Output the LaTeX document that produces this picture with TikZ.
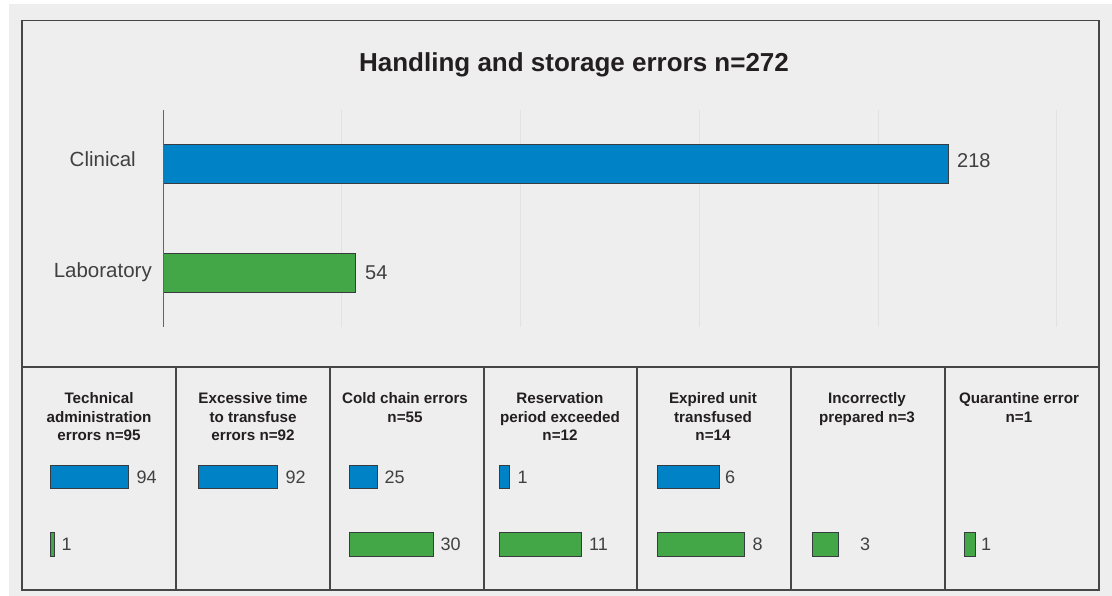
\documentclass[tikz,border=0pt]{standalone}
\usepackage{fontspec}
\setmainfont{Liberation Sans}
\definecolor{bg}{RGB}{238,238,238}
\definecolor{cblue}{RGB}{0,131,198}
\definecolor{cgreen}{RGB}{67,167,72}
\definecolor{barline}{RGB}{55,60,65}
\definecolor{frame}{RGB}{70,70,70}
\definecolor{gridc}{RGB}{226,226,226}
\definecolor{axisc}{RGB}{100,100,100}
\definecolor{hdrc}{RGB}{35,31,32}
\definecolor{valc}{RGB}{64,64,64}
\tikzset{
  bluebar/.style={fill=cblue,draw=barline,line width=0.8pt},
  greenbar/.style={fill=cgreen,draw=barline,line width=0.8pt},
  framebox/.style={draw=frame,line width=1.4pt},
  gridline/.style={draw=gridc,line width=0.8pt},
  valtext/.style={anchor=base west,inner sep=0pt,text=valc,font=\fontsize{18}{18}\selectfont},
  bigval/.style={anchor=base west,inner sep=0pt,text=valc,font=\fontsize{20}{20}\selectfont},
  catlabel/.style={anchor=base east,inner sep=0pt,text=valc,font=\fontsize{20.5}{20.5}\selectfont},
  hdr/.style={anchor=north,align=center,inner sep=0pt,text=hdrc,font=\bfseries\fontsize{15.2}{18.3}\selectfont},
  titletext/.style={anchor=base,inner sep=0pt,text=hdrc,font=\bfseries\fontsize{26}{26}\selectfont}
}
\begin{document}
\begin{tikzpicture}[x=1pt,y=-1pt]
\useasboundingbox (0,0) rectangle (1112,596);
\fill[white] (0,0) rectangle (1112,596);
\fill[bg] (9,4) rectangle (1112,596);

% title
\node[titletext] (title) at (574,72) {Handling and storage errors n=272};

% grid lines
\foreach \gx in {341.5,520,699,878,1056}
  \draw[gridline] (\gx,110) -- (\gx,327);

% top bars
\draw[bluebar] (163,144) rectangle (948,183.5);
\draw[greenbar] (163,253) rectangle (355,292);
% axis
\draw[draw=axisc,line width=1pt] (163,110) -- (163,327);

\node[catlabel] (clin) at (136,167) {Clinical};
\node[catlabel] (lab) at (152,277.5) {Laboratory};
\node[bigval] (v218) at (957,167.5) {218};
\node[bigval] (v54) at (365,279.5) {54};

% frame
\draw[framebox] (22,20.5) rectangle (1099,590);
\draw[framebox] (22,367) -- (1099,367);
\foreach \cx in {176,330,484,637,791,945}
  \draw[framebox] (\cx,367) -- (\cx,590);

% headers
\node[hdr] (h1) at (99,392.5) {Technical\\administration\\errors n=95};
\node[hdr] (h2) at (253,392.5) {Excessive time\\to transfuse\\errors n=92};
\node[hdr] (h3) at (405,392.5) {Cold chain errors\\n=55};
\node[hdr] (h4) at (560,392.5) {Reservation\\period exceeded\\n=12};
\node[hdr] (h5) at (713,392.5) {Expired unit\\transfused\\n=14};
\node[hdr] (h6) at (867,392.5) {Incorrectly\\prepared n=3};
\node[hdr] (h7) at (1019,392.5) {Quarantine error\\n=1};

% bottom bars: blue row 465-488.5, green row 532-556
\draw[bluebar] (50.4,465) rectangle (128.6,488.5);
\draw[greenbar] (50,532) rectangle (54.5,556);
\node[valtext] (c1a) at (136.5,483) {94};
\node[valtext] (c1b) at (61.5,550.5) {1};

\draw[bluebar] (198.5,465) rectangle (277,488.5);
\node[valtext] (c2a) at (285.5,483) {92};

\draw[bluebar] (349,465) rectangle (377.5,488.5);
\draw[greenbar] (349,532) rectangle (433.5,556);
\node[valtext] (c3a) at (384.5,483) {25};
\node[valtext] (c3b) at (440.5,550.5) {30};

\draw[bluebar] (499,465) rectangle (509.6,488.5);
\draw[greenbar] (499,532) rectangle (581.4,556);
\node[valtext] (c4a) at (517.5,483) {1};
\node[valtext] (c4b) at (589,550.5) {11};

\draw[bluebar] (657.5,465) rectangle (719,488.5);
\draw[greenbar] (657.5,532) rectangle (744,556);
\node[valtext] (c5a) at (725,483) {6};
\node[valtext] (c5b) at (752.5,550.5) {8};

\draw[greenbar] (812,532) rectangle (838,556);
\node[valtext] (c6b) at (860,550.5) {3};

\draw[greenbar] (964.6,532) rectangle (975,556);
\node[valtext] (c7b) at (981,550.5) {1};
\end{tikzpicture}
\end{document}
